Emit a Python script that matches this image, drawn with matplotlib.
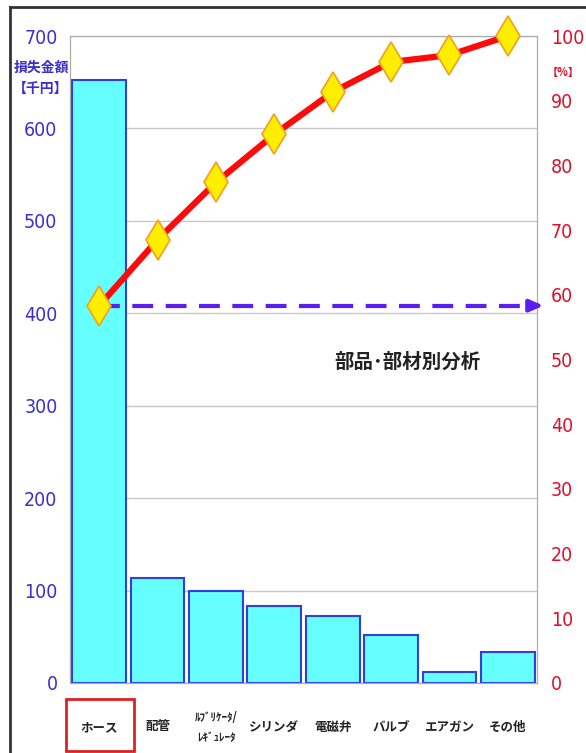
import matplotlib.pyplot as plt
import matplotlib.patches as patches
from matplotlib.lines import Line2D
import numpy as np

plt.rcParams['font.family'] = ['Noto Sans CJK JP', 'DejaVu Sans']

categories = ["ホース", "配管", "ﾙﾌﾞﾘｹｰﾀ/\nﾚｷﾞｭﾚｰﾀ", "シリンダ", "電磁弁", "バルブ", "エアガン", "その他"]
loss = [652, 114, 99, 83, 73, 52, 12, 33]
left_ticks = [0, 100, 200, 300, 400, 500, 600, 700]
right_ticks = [0, 10, 20, 30, 40, 50, 60, 70, 80, 90, 100]

cum_pct = np.cumsum(loss) / sum(loss) * 100

W, H = 586, 753
fig = plt.figure(figsize=(W / 100, H / 100), dpi=100)
ax = fig.add_axes([70 / W, 70 / H, 467 / W, 647 / H])
ax2 = ax.twinx()

blue = "#3a2fd0"
red = "#e0102a"
num_kw = dict(family='DejaVu Sans', fontstretch='condensed', fontsize=14)

x = np.arange(len(categories))
ax.bar(x, loss, width=0.92, color="#66ffff", edgecolor="#2f3fe0", linewidth=1.5, zorder=2)
ax.set_xlim(-0.5, len(categories) - 0.5)
ax.set_ylim(0, 700)
ax.set_yticks(left_ticks)
ax.set_yticklabels([str(t) for t in left_ticks], color=blue, **num_kw)
ax.tick_params(axis='y', length=0, pad=9)
ax.set_xticks(x)
ax.set_xticklabels(categories, fontsize=9, fontweight='bold', color="#222222")
ax.tick_params(axis='x', length=0, pad=32)
for lab in ax.get_xticklabels():
    lab.set_verticalalignment('center')
    if "\n" in lab.get_text():
        lab.set_fontsize(8)
        lab.set_linespacing(1.7)
ax.yaxis.grid(True, color="#c8c8c8", linewidth=1)
ax.set_axisbelow(True)
for s in ax.spines.values():
    s.set_color("#bbbbbb")

ax2.set_ylim(0, 100)
ax2.set_yticks(right_ticks)
ax2.set_yticklabels([str(t) for t in right_ticks], color=red, **num_kw)
ax2.tick_params(axis='y', length=0, pad=10)
for s in ax2.spines.values():
    s.set_color("#aaaaaa")

# dashed arrow from first cumulative point to the right axis
ax2.plot([x[0], 7.35], [cum_pct[0], cum_pct[0]], color="#5a1ff0", linewidth=3,
         dashes=(5, 3), zorder=3, clip_on=False)
ax2.annotate("", xy=(7.66, cum_pct[0]), xytext=(7.3, cum_pct[0]),
             arrowprops=dict(arrowstyle="-|>,head_length=0.8,head_width=0.35",
                             color="#5a1ff0", linewidth=3),
             annotation_clip=False)

ax2.plot(x, cum_pct, color="#ff0a0a", linewidth=4.5, marker='d', markersize=20,
         markerfacecolor="#ffee00", markeredgecolor="#f0a020", markeredgewidth=1.2,
         zorder=4, clip_on=False)

fig.text(41 / W, 1 - 68 / H, "損失金額", color=blue, fontsize=10, fontweight='bold',
         ha='center', va='center')
fig.text(41 / W, 1 - 89 / H, "【千円】", color=blue, fontsize=10, fontweight='bold',
         ha='center', va='center')
fig.text(563 / W, 1 - 72 / H, "【%】", color=red, fontsize=8, fontweight='bold',
         ha='center', va='center')
fig.text(407 / W, 1 - 362 / H, "部品･部材別分析", color="#222222", fontsize=14,
         fontweight='bold', ha='center', va='center')

# outer frame (top and left visible) and the box round the first label
fig.add_artist(Line2D([10 / W, 1], [1 - 7 / H, 1 - 7 / H], color="#333333", linewidth=2))
fig.add_artist(Line2D([10 / W, 10 / W], [0, 1 - 7 / H], color="#333333", linewidth=2))
fig.add_artist(patches.Rectangle((66 / W, 2 / H), 68 / W, 52 / H, transform=fig.transFigure,
                                 fill=False, edgecolor="#e02020", linewidth=2))

fig.savefig("out.png", dpi=100)
